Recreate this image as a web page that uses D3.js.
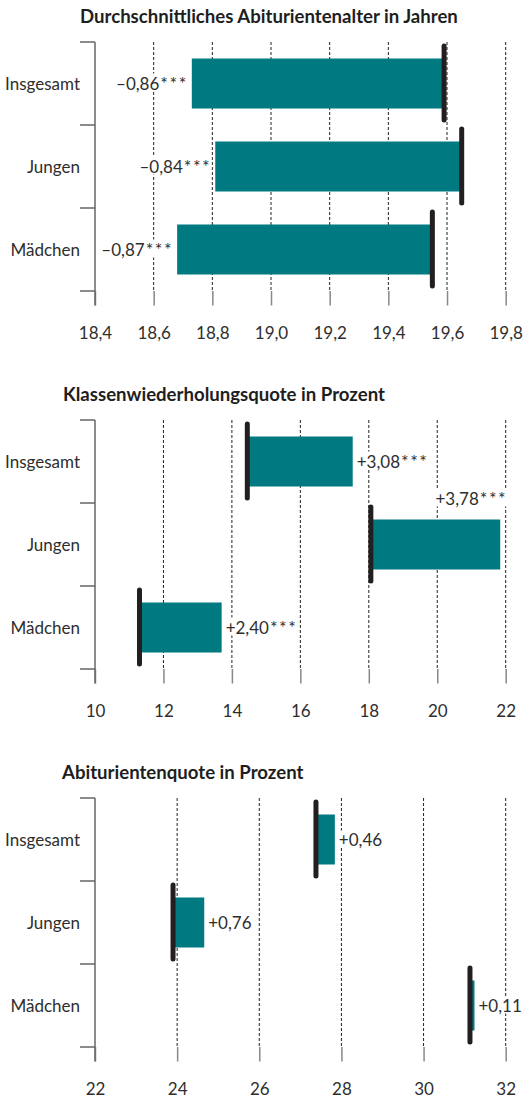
<!doctype html>
<html>
<head>
<meta charset="utf-8">
<script src="https://cdnjs.cloudflare.com/ajax/libs/d3/7.8.5/d3.min.js"></script>
<style>
  body { margin: 0; background: #fff; }
  svg text { font-family: Lato, "Noto Sans", sans-serif; fill: #2e2e2e; }
  .title { font-weight: bold; fill: #1e1e1e; }
</style>
</head>
<body>
<svg id="chart" width="530" height="1099"></svg>
<script>
var categories = ["Insgesamt", "Jungen", "Mädchen"];

// Panel 1: average age at Abitur
var ageTitle = "Durchschnittliches Abiturientenalter in Jahren",
    ageTicks = [18.4, 18.6, 18.8, 19.0, 19.2, 19.4, 19.6, 19.8],
    ageBefore = [19.59, 19.65, 19.55],
    ageAfter = [18.73, 18.81, 18.68],
    ageLabels = ["–0,86***", "–0,84***", "–0,87***"];

// Panel 2: grade repetition rate
var repTitle = "Klassenwiederholungsquote in Prozent",
    repTicks = [10, 12, 14, 16, 18, 20, 22],
    repBefore = [14.45, 18.06, 11.30],
    repAfter = [17.53, 21.84, 13.70],
    repLabels = ["+3,08***", "+3,78***", "+2,40***"];

// Panel 3: Abitur rate
var abiTitle = "Abiturientenquote in Prozent",
    abiTicks = [22, 24, 26, 28, 30, 32],
    abiBefore = [27.38, 23.90, 31.13],
    abiAfter = [27.84, 24.66, 31.24],
    abiLabels = ["+0,46", "+0,76", "+0,11"];

var panels = [
    { title: ageTitle, ticks: ageTicks, before: ageBefore, after: ageAfter, labels: ageLabels, fmt: d3.format(".1f"), top: 42, titleX: 80 },
    { title: repTitle, ticks: repTicks, before: repBefore, after: repAfter, labels: repLabels, fmt: d3.format("d"), top: 420, titleX: 63 },
    { title: abiTitle, ticks: abiTicks, before: abiBefore, after: abiAfter, labels: abiLabels, fmt: d3.format("d"), top: 798, titleX: 62 }
];

var svg = d3.select("#chart"),
    left = 95,
    right = 505.7,
    band = 83,
    barH = 50,
    fs = 17,
    teal = "#007a80",
    dark = "#231f20";

panels.forEach(function(p) {
    var x = d3.scaleLinear().domain([p.ticks[0], p.ticks[p.ticks.length - 1]]).range([left, right]),
        y = d3.scaleBand().domain(categories).range([p.top, p.top + band * categories.length]),
        bottom = p.top + band * categories.length,
        g = svg.append("g");

    g.append("text")
     .attr("class", "title")
     .attr("x", p.titleX)
     .attr("y", p.top - 19)
     .attr("font-size", 18.6)
     .text(p.title);

    // dashed grid
    g.selectAll(".grid")
     .data(p.ticks.slice(1))
     .enter().append("line")
     .attr("x1", function(d) { return x(d); })
     .attr("x2", function(d) { return x(d); })
     .attr("y1", p.top)
     .attr("y2", bottom)
     .attr("stroke", "#222")
     .attr("stroke-width", 1)
     .attr("stroke-dasharray", "3,2");

    // bottom axis
    var ax = g.append("g")
              .attr("transform", "translate(0," + bottom + ")")
              .call(d3.axisBottom(x)
                      .tickValues(p.ticks)
                      .tickSize(14.5)
                      .tickPadding(21)
                      .tickFormat(function(d) { return p.fmt(d).replace(".", ","); }));
    ax.attr("font-family", null);
    ax.select(".domain").remove();
    ax.selectAll(".tick line").attr("stroke", "#888").attr("stroke-width", 1.5);
    ax.selectAll(".tick text")
      .attr("font-size", fs)
      .attr("fill", "#2e2e2e");

    // left axis with category separators
    g.append("line")
     .attr("x1", left).attr("x2", left)
     .attr("y1", p.top).attr("y2", bottom + 14.5)
     .attr("stroke", "#666").attr("stroke-width", 1.5);

    g.selectAll(".sep")
     .data([p.top].concat(categories.map(function(c) { return y(c) + y.bandwidth(); })))
     .enter().append("line")
     .attr("x1", left - 15).attr("x2", left)
     .attr("y1", function(d) { return d; })
     .attr("y2", function(d) { return d; })
     .attr("stroke", "#666").attr("stroke-width", 1.5);

    g.selectAll(".cat")
     .data(categories)
     .enter().append("text")
     .attr("x", left - 15)
     .attr("y", function(c) { return y(c) + y.bandwidth() / 2 + 6; })
     .attr("text-anchor", "end")
     .attr("font-size", fs)
     .text(function(c) { return c; });

    var rows = categories.map(function(c, i) {
        return { cat: c, before: p.before[i], after: p.after[i], label: p.labels[i] };
    });

    g.selectAll(".bar")
     .data(rows)
     .enter().append("rect")
     .attr("x", function(d) { return x(Math.min(d.before, d.after)); })
     .attr("width", function(d) { return Math.abs(x(d.after) - x(d.before)); })
     .attr("y", function(d) { return y(d.cat) + (y.bandwidth() - barH) / 2; })
     .attr("height", barH)
     .attr("fill", teal);

    g.selectAll(".base")
     .data(rows)
     .enter().append("line")
     .attr("x1", function(d) { return x(d.before); })
     .attr("x2", function(d) { return x(d.before); })
     .attr("y1", function(d) { return y(d.cat) + 4; })
     .attr("y2", function(d) { return y(d.cat) + y.bandwidth() - 5; })
     .attr("stroke", dark)
     .attr("stroke-width", 5)
     .attr("stroke-linecap", "round");

    rows.forEach(function(d) {
        var lg = g.append("g"),
            num = d.label.replace(/\*+$/, ""),
            stars = d.label.slice(num.length),
            cy = y(d.cat) + y.bandwidth() / 2,
            neg = d.after < d.before;
        var t = lg.append("text").attr("font-size", fs);
        t.append("tspan").text(num);
        if (stars) {
            t.append("tspan")
             .attr("font-size", 18)
             .attr("letter-spacing", 1.5)
             .attr("dx", 1)
             .text(stars);
        }
        var w = t.node().getComputedTextLength();
        if (neg) {
            t.attr("text-anchor", "end").attr("x", x(d.after) - 4).attr("y", cy + 6);
        } else if (x(d.after) + 4 + w > 528) {
            t.attr("text-anchor", "end").attr("x", x(d.after) + 7).attr("y", cy - barH / 2 - 15);
        } else {
            t.attr("x", x(d.after) + 4).attr("y", cy + 6);
        }
        var bb = t.node().getBBox();
        lg.insert("rect", "text")
          .attr("x", bb.x).attr("y", bb.y + 2)
          .attr("width", bb.width).attr("height", bb.height - 4)
          .attr("fill", "#fff");
    });
});
</script>
</body>
</html>
